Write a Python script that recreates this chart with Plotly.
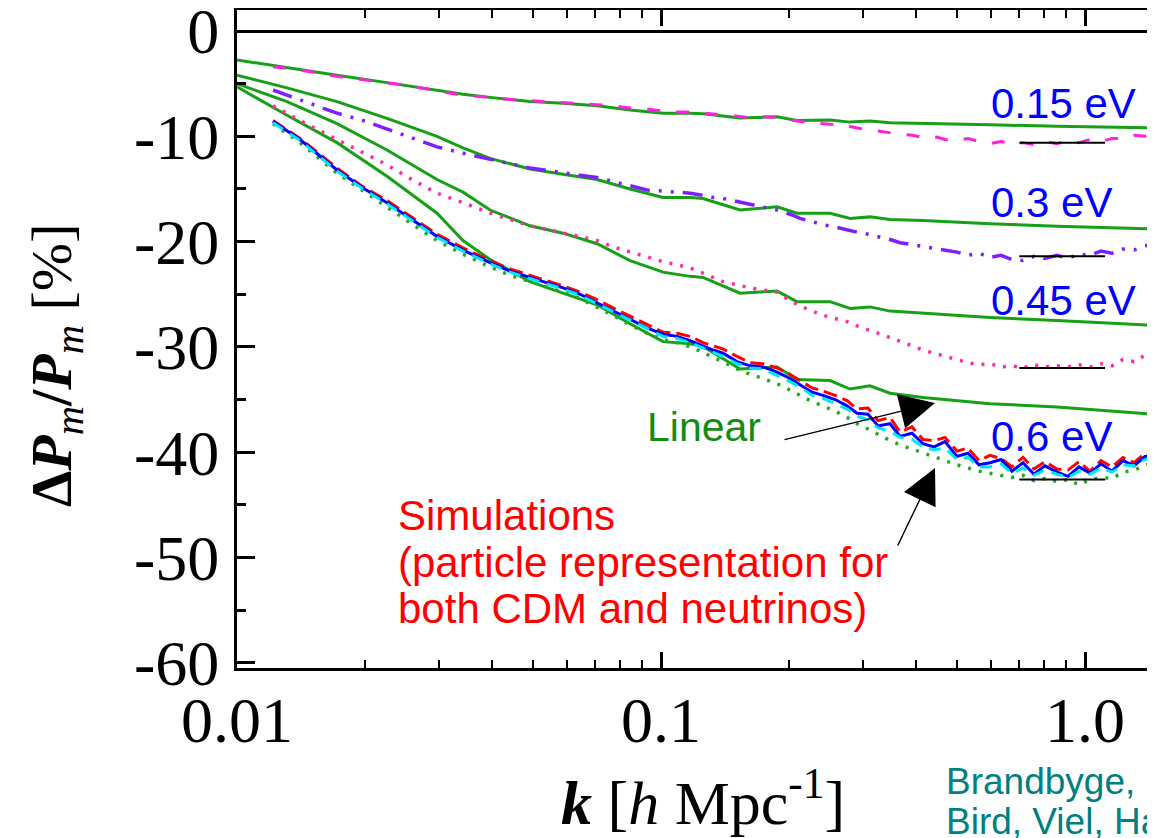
import plotly.graph_objects as go

# ---------------- data ----------------
# linear-theory curves (k grid)
k_lin = [0.0100, 0.01312, 0.01721, 0.02258, 0.02963, 0.03412, 0.03952, 0.04909, 0.05873,
         0.07066, 0.08452, 0.1011, 0.1171, 0.1256, 0.1536, 0.1878, 0.2093, 0.2504, 0.2792,
         0.3111, 0.3469, 0.4150, 0.5969, 0.8591, 1.462]
lin_015 = [-2.75, -3.5, -4.2, -4.9, -5.6, -6.0, -6.3, -6.7, -6.85, -7.1, -7.5, -7.8, -7.8, -7.85,
           -8.25, -8.15, -8.5, -8.45, -8.65, -8.55, -8.7, -8.75, -8.9, -9.05, -9.2]
lin_030 = [-4.2, -5.4, -6.7, -8.3, -10.0, -11.1, -12.1, -13.1, -13.6, -14.1, -15.0, -15.8, -15.8,
           -15.9, -17.0, -16.7, -17.3, -17.3, -17.8, -17.65, -17.9, -18.0, -18.3, -18.55, -18.8]
lin_045 = [-5.0, -6.7, -8.8, -11.3, -14.1, -15.3, -17.0, -18.5, -19.2, -20.2, -21.8, -22.9, -23.3,
           -23.4, -24.9, -24.7, -25.7, -25.7, -26.35, -26.2, -26.6, -26.8, -27.2, -27.5, -27.95]
lin_060 = [-5.3, -8.0, -10.6, -13.8, -17.3, -19.9, -21.7, -23.8, -24.9, -26.0, -27.8, -29.5, -29.7,
           -29.95, -32.1, -31.9, -33.1, -33.2, -34.0, -33.7, -34.4, -34.8, -35.4, -35.7, -36.4]

# simulation curves (k grid)
k_sim = [0.01216, 0.01408, 0.01721, 0.01983, 0.02258, 0.02559, 0.02963, 0.03412, 0.03952, 0.04405,
         0.04909, 0.05472, 0.05873, 0.06442, 0.07066, 0.07704, 0.08452, 0.09268, 0.1011, 0.1091,
         0.1171, 0.1256, 0.1326, 0.1400, 0.1511, 0.1622, 0.1740, 0.1878, 0.2015, 0.2127,
         0.2271, 0.2410, 0.2573, 0.2747, 0.2900, 0.3078, 0.3250, 0.3469, 0.3662, 0.3908,
         0.4150, 0.4405, 0.4675, 0.4991, 0.5298, 0.5623, 0.5969, 0.6337, 0.6726, 0.7140,
         0.7579, 0.8045, 0.8591, 0.9119, 0.9680, 1.0275, 1.0907, 1.1578, 1.229, 1.305,
         1.385, 1.462]
sim_015 = [-3.4, -3.7, -4.3, -4.6, -4.9, -5.2, -5.7, -6.1, -6.3, -6.5,
           -6.6, -6.7, -6.8, -6.9, -7.0, -7.1, -7.3, -7.4, -7.6, -7.7,
           -7.7, -7.8, -7.9, -8.0, -8.1, -8.2, -8.15, -8.2, -8.4, -8.6,
           -8.7, -8.8, -8.9, -9.0, -9.2, -9.4, -9.5, -9.7, -9.8, -9.9,
           -10.1, -10.0, -10.3, -10.4, -10.2, -10.5, -10.7, -10.5, -10.7, -10.6,
           -10.8, -10.5, -10.7, -10.4, -10.6, -10.3, -10.5, -10.2, -10.2, -9.9,
           -10.0, -9.7]
sim_030 = [-5.6, -6.5, -7.8, -8.5, -9.3, -10.1, -11.0, -11.6, -12.2, -12.6,
           -13.0, -13.3, -13.5, -13.7, -13.9, -14.3, -14.7, -15.1, -15.2, -15.3,
           -15.4, -15.6, -15.8, -15.9, -16.2, -16.5, -16.7, -17.0, -17.4, -17.8,
           -18.1, -18.4, -18.6, -18.9, -19.1, -19.3, -19.5, -19.8, -20.1, -20.3,
           -20.4, -20.6, -20.8, -21.0, -21.3, -21.1, -21.5, -21.3, -21.7, -21.8,
           -21.4, -21.6, -21.3, -21.6, -21.2, -21.3, -20.9, -21.1, -20.7, -20.8,
           -20.4, -20.3]
sim_045 = [-7.1, -8.5, -10.3, -11.6, -12.7, -14.0, -15.4, -16.3, -17.3, -17.9,
           -18.5, -18.9, -19.2, -19.5, -19.9, -20.5, -21.0, -21.5, -21.9, -22.2,
           -22.5, -23.0, -23.4, -23.8, -24.1, -24.4, -24.6, -24.8, -25.6, -26.1,
           -26.6, -27.0, -27.3, -27.6, -28.0, -28.4, -28.7, -29.1, -29.5, -29.9,
           -30.3, -30.6, -30.9, -31.2, -31.5, -31.7, -31.6, -31.9, -31.8, -32.0,
           -31.7, -31.9, -31.8, -31.9, -31.7, -31.9, -31.6, -31.8, -31.2, -31.4,
           -30.8, -30.5]
sim_060_red = [-8.5, -10.2, -13.0, -14.8, -16.1, -17.6, -19.3, -20.6, -21.8, -22.6,
               -23.2, -23.8, -24.2, -24.8, -25.5, -26.3, -27.1, -27.9, -28.6, -28.7,
               -29.0, -29.6, -29.9, -30.2, -30.9, -31.5, -31.6, -32.0, -32.6, -33.2,
               -33.9, -34.2, -34.6, -35.1, -35.9, -35.8, -37.0, -36.7, -38.1, -37.6,
               -38.8, -38.9, -38.6, -39.9, -39.6, -40.8, -40.3, -40.6, -41.4, -40.5,
               -41.6, -40.9, -41.6, -41.7, -40.9, -41.8, -40.8, -41.4, -40.5, -41.0,
               -40.1, -40.0]
sim_060_blue = [-8.6, -10.3, -13.2, -14.9, -16.3, -17.8, -19.5, -20.8, -22.0, -22.8,
                -23.4, -24.0, -24.4, -25.0, -25.8, -26.6, -27.4, -28.2, -28.8, -29.0,
                -29.4, -29.9, -30.3, -30.6, -31.4, -31.8, -31.9, -32.4, -33.0, -33.6,
                -34.3, -34.6, -35.0, -35.6, -36.3, -36.4, -37.5, -37.3, -38.5, -38.2,
                -39.2, -39.5, -39.0, -40.4, -40.1, -41.2, -41.0, -40.7, -41.8, -41.0,
                -42.1, -41.3, -41.9, -42.3, -41.4, -42.0, -41.1, -41.8, -40.8, -41.3,
                -40.4, -40.3]
sim_060_cyan = [-8.7, -10.4, -13.3, -15.0, -16.4, -17.9, -19.6, -20.9, -22.1, -22.9,
                -23.5, -24.1, -24.5, -25.1, -25.9, -26.7, -27.5, -28.3, -29.0, -29.2,
                -29.6, -30.1, -30.5, -30.9, -31.6, -32.0, -32.1, -32.7, -33.3, -33.8,
                -34.6, -34.9, -35.4, -35.9, -36.6, -36.9, -37.7, -38.0, -38.6, -38.8,
                -39.5, -39.8, -39.6, -40.7, -40.5, -41.4, -41.4, -41.1, -42.0, -41.5,
                -42.2, -41.7, -42.1, -42.4, -41.8, -42.1, -41.5, -41.9, -41.2, -41.3,
                -40.7, -40.5]
sim_060_green = [-8.8, -10.6, -13.5, -15.2, -16.7, -18.2, -19.9, -21.2, -22.4, -23.2,
                 -23.8, -24.4, -24.8, -25.4, -26.2, -27.0, -27.9, -28.7, -29.3, -29.6,
                 -30.0, -30.5, -31.0, -31.4, -32.1, -32.6, -33.0, -33.5, -34.1, -34.6,
                 -35.2, -35.6, -36.1, -36.7, -37.3, -37.8, -38.3, -38.9, -39.3, -39.7,
                 -40.1, -40.5, -40.8, -41.2, -41.5, -41.8, -42.0, -42.2, -42.4, -42.2,
                 -42.7, -42.5, -42.8, -42.6, -43.1, -42.6, -42.4, -42.5, -41.9, -41.7,
                 -41.3, -40.9]

# short reference levels
ref_k = [0.70, 1.115]
ref_levels = [-10.6, -21.4, -32.0, -42.6]

# labels
mass_labels = ["0.15 eV", "0.3 eV", "0.45 eV", "0.6 eV"]
x_tickvals = [0.01, 0.1, 1.0]
x_ticktext = ["0.01", "0.1", "1.0"]
x_minor = [0.02, 0.03, 0.04, 0.05, 0.06, 0.07, 0.08, 0.09,
           0.2, 0.3, 0.4, 0.5, 0.6, 0.7, 0.8, 0.9]
y_tickvals = [0, -10, -20, -30, -40, -50, -60]
y_ticktext = ["0", "-10", "-20", "-30", "-40", "-50", "-60"]
y_minor = [-5, -15, -25, -35, -45, -55]

# ---------------- figure ----------------
GREEN = "#15a015"
fig = go.Figure()

for ys in (lin_015, lin_030, lin_045, lin_060):
    fig.add_trace(go.Scatter(x=k_lin, y=ys, mode="lines",
                             line=dict(color=GREEN, width=3), hoverinfo="skip"))

fig.add_trace(go.Scatter(x=k_sim, y=sim_015, mode="lines",
                         line=dict(color="#ff22dd", width=3, dash="13px,16px")))
fig.add_trace(go.Scatter(x=k_sim, y=sim_030, mode="lines",
                         line=dict(color="#7f1fff", width=3.5,
                                   dash="20px,9px,3px,9px,3px,9px")))
fig.add_trace(go.Scatter(x=k_sim, y=sim_045, mode="lines",
                         line=dict(color="#ff2aa8", width=3.5, dash="3px,8px")))
fig.add_trace(go.Scatter(x=k_sim, y=sim_060_green, mode="lines",
                         line=dict(color="#22a822", width=3.5, dash="3px,8px")))
fig.add_trace(go.Scatter(x=k_sim, y=sim_060_red, mode="lines",
                         line=dict(color="#ff0000", width=3, dash="14px,6px")))
fig.add_trace(go.Scatter(x=k_sim, y=sim_060_blue, mode="lines",
                         line=dict(color="#0000ff", width=3)))
fig.add_trace(go.Scatter(x=k_sim, y=sim_060_cyan, mode="lines",
                         line=dict(color="#00e8ff", width=3, dash="12px,8px")))

for lev in ref_levels:
    fig.add_trace(go.Scatter(x=ref_k, y=[lev, lev], mode="lines",
                             line=dict(color="black", width=2)))

# ---------------- layout helpers (screen-pixel positions of the plot area) ----------------
OFF = 8                      # page body margin
SL, SR, ST, SB = 237, 1163, 10, 668


def px(x):
    return (x - SL) / (SR - SL)


def py(y):
    return (SB - y) / (SB - ST)


annotations = []
SANS = "Liberation Sans"
SERIF = "Liberation Serif"

for lab, yc in zip(mass_labels, [103, 203, 300, 436]):
    annotations.append(dict(x=px(989), y=py(yc), xref="paper", yref="paper", text=lab,
                            showarrow=False, xanchor="left", yanchor="middle",
                            font=dict(family=SANS, size=42, color="#0000ff")))

annotations.append(dict(x=px(704), y=py(427), xref="paper", yref="paper", text="Linear",
                        showarrow=False, xanchor="center", yanchor="middle",
                        font=dict(family=SANS, size=41, color="#148c14")))

for line, yc in zip(["Simulations", "(particle representation for", "both CDM and neutrinos)"],
                    [515, 562, 608]):
    annotations.append(dict(x=px(396), y=py(yc), xref="paper", yref="paper", text=line,
                            showarrow=False, xanchor="left", yanchor="middle",
                            font=dict(family=SANS, size=42, color="#ff0000")))

# arrows
annotations.append(dict(x=px(935), y=py(403), xref="paper", yref="paper", text="",
                        showarrow=True, ax=783 - 935, ay=440 - 403, axref="pixel", ayref="pixel",
                        arrowhead=2, arrowsize=5, arrowwidth=1.4, arrowcolor="black"))
annotations.append(dict(x=px(935), y=py(468), xref="paper", yref="paper", text="",
                        showarrow=True, ax=897 - 935, ay=547 - 468, axref="pixel", ayref="pixel",
                        arrowhead=2, arrowsize=5, arrowwidth=1.4, arrowcolor="black"))

for line, yc in zip(["Brandbyge, Hannestad, Haugbølle, Thomsen", "Bird, Viel, Haehnelt"],
                    [781, 821]):
    annotations.append(dict(x=px(944), y=py(yc), xref="paper", yref="paper", text=line,
                            showarrow=False, xanchor="left", yanchor="middle",
                            font=dict(family=SANS, size=37, color="#008080")))

# axis titles
annotations.append(dict(x=px(55), y=py(366), xref="paper", yref="paper",
                        text="<b>Δ<i>P</i></b><sub><i>m</i></sub><b>/<i>P</i></b><sub><i>m</i></sub> [%]",
                        textangle=-90, showarrow=False, xanchor="center", yanchor="middle",
                        font=dict(family=SERIF, size=58, color="black")))
annotations.append(dict(x=px(703), y=py(798), xref="paper", yref="paper",
                        text="<b><i>k</i></b> [<i>h</i> Mpc<sup>-1</sup>]",
                        showarrow=False, xanchor="center", yanchor="middle",
                        font=dict(family=SERIF, size=62, color="black")))

fig.update_layout(
    width=1155, height=838,
    margin=dict(l=SL - OFF, r=0, t=ST - OFF, b=838 - (SB - OFF), autoexpand=False),
    paper_bgcolor="white", plot_bgcolor="white",
    showlegend=False,
    annotations=annotations,
    xaxis=dict(type="log", range=[-2, -2 + (SR - SL) / 424],
               tickmode="array", tickvals=x_tickvals, ticktext=x_ticktext,
               ticks="inside", ticklen=16, tickwidth=2.5, tickcolor="black",
               showline=True, linewidth=3, linecolor="black", mirror="allticks",
               showgrid=False, zeroline=False, ticklabelstandoff=-6, automargin=False,
               ticklabeloverflow="allow",
               tickfont=dict(family=SERIF, size=64, color="black"),
               minor=dict(tickmode="array", tickvals=x_minor, ticks="inside",
                          ticklen=8, tickwidth=2, tickcolor="black", showgrid=False)),
    yaxis=dict(range=[-60.5, 2.0],
               tickmode="array", tickvals=y_tickvals, ticktext=y_ticktext,
               ticks="inside", ticklen=18, tickwidth=3, tickcolor="black",
               showline=True, linewidth=3, linecolor="black", mirror=False,
               showgrid=False, zeroline=True, zerolinecolor="black", zerolinewidth=3,
               ticklabelstandoff=2, automargin=False, ticklabeloverflow="allow",
               tickfont=dict(family=SERIF, size=64, color="black"),
               minor=dict(tickmode="array", tickvals=y_minor, ticks="inside",
                          ticklen=9, tickwidth=3, tickcolor="black", showgrid=False)),
)

fig.write_html("out.html")
